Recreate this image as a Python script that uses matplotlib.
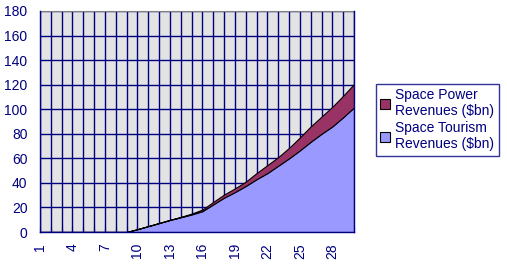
import matplotlib

matplotlib.use("Agg")
import matplotlib.pyplot as plt

# years 1..30, values in $bn
categories = list(range(1, 31))
tourism = [0, 0, 0, 0, 0, 0, 0, 0, 0,
           2.3, 4.8, 7.3, 9.8, 12.0, 14.3, 17.0, 22.5, 28.0, 32.5, 37.5,
           43.0, 48.0, 54.0, 60.0, 66.5, 73.5, 80.0, 86.0, 93.5, 101.5]
power = [0, 0, 0, 0, 0, 0, 0, 0, 0,
         0.0, 0.0, 0.0, 0.1, 0.3, 0.7, 1.3, 2.0, 2.5, 3.0, 3.5,
         5.0, 6.5, 7.0, 8.5, 10.5, 12.5, 14.0, 16.0, 17.5, 19.0]
tick_labels = [str(c) if (c - 1) % 3 == 0 else "" for c in categories]
y_ticks = list(range(0, 181, 20))

NAVY = "#000080"
plt.rcParams["font.family"] = ["Liberation Sans", "DejaVu Sans"]
plt.rcParams["font.size"] = 10

fig = plt.figure(figsize=(5.07, 2.68), dpi=100)
ax = fig.add_axes([40 / 507, 36 / 268, 314 / 507, 221 / 268])
ax.set_facecolor("#E3E3E3")

polys = ax.stackplot(
    categories,
    tourism,
    power,
    colors=["#9999FF", "#993366"],
    edgecolor="black",
    linewidth=0.8,
    zorder=3,
)

ax.set_xlim(1, 30)
ax.set_ylim(0, 180)
ax.set_xticks(categories)
ax.set_xticklabels(tick_labels, rotation=90, color=NAVY)
ax.set_yticks(y_ticks)
ax.set_yticklabels([str(v) for v in y_ticks], color=NAVY)
ax.tick_params(axis="x", direction="in", length=4, color=NAVY, pad=8)
ax.tick_params(axis="y", length=0, pad=9)

ax.grid(True, color=NAVY, linewidth=1.0, zorder=1)
ax.set_axisbelow(True)
for side in ("left", "bottom", "right"):
    ax.spines[side].set_color(NAVY)
    ax.spines[side].set_linewidth(1.0)
    ax.spines[side].set_zorder(4)
ax.spines["top"].set_color("#808080")

leg = fig.legend(
    [polys[1], polys[0]],
    ["Space Power\nRevenues ($bn)", "Space Tourism\nRevenues ($bn)"],
    loc="upper left",
    bbox_to_anchor=(376 / 507, 1 - 84 / 268),
    bbox_transform=fig.transFigure,
    borderaxespad=0,
    fancybox=False,
    frameon=True,
    edgecolor=NAVY,
    handlelength=0.7,
    handleheight=0.7,
    handletextpad=0.4,
    borderpad=0.3,
    labelspacing=0.2,
)
leg.get_frame().set_linewidth(1.0)
for t in leg.get_texts():
    t.set_color(NAVY)

fig.savefig("out.png", dpi=100)
plt.close(fig)
